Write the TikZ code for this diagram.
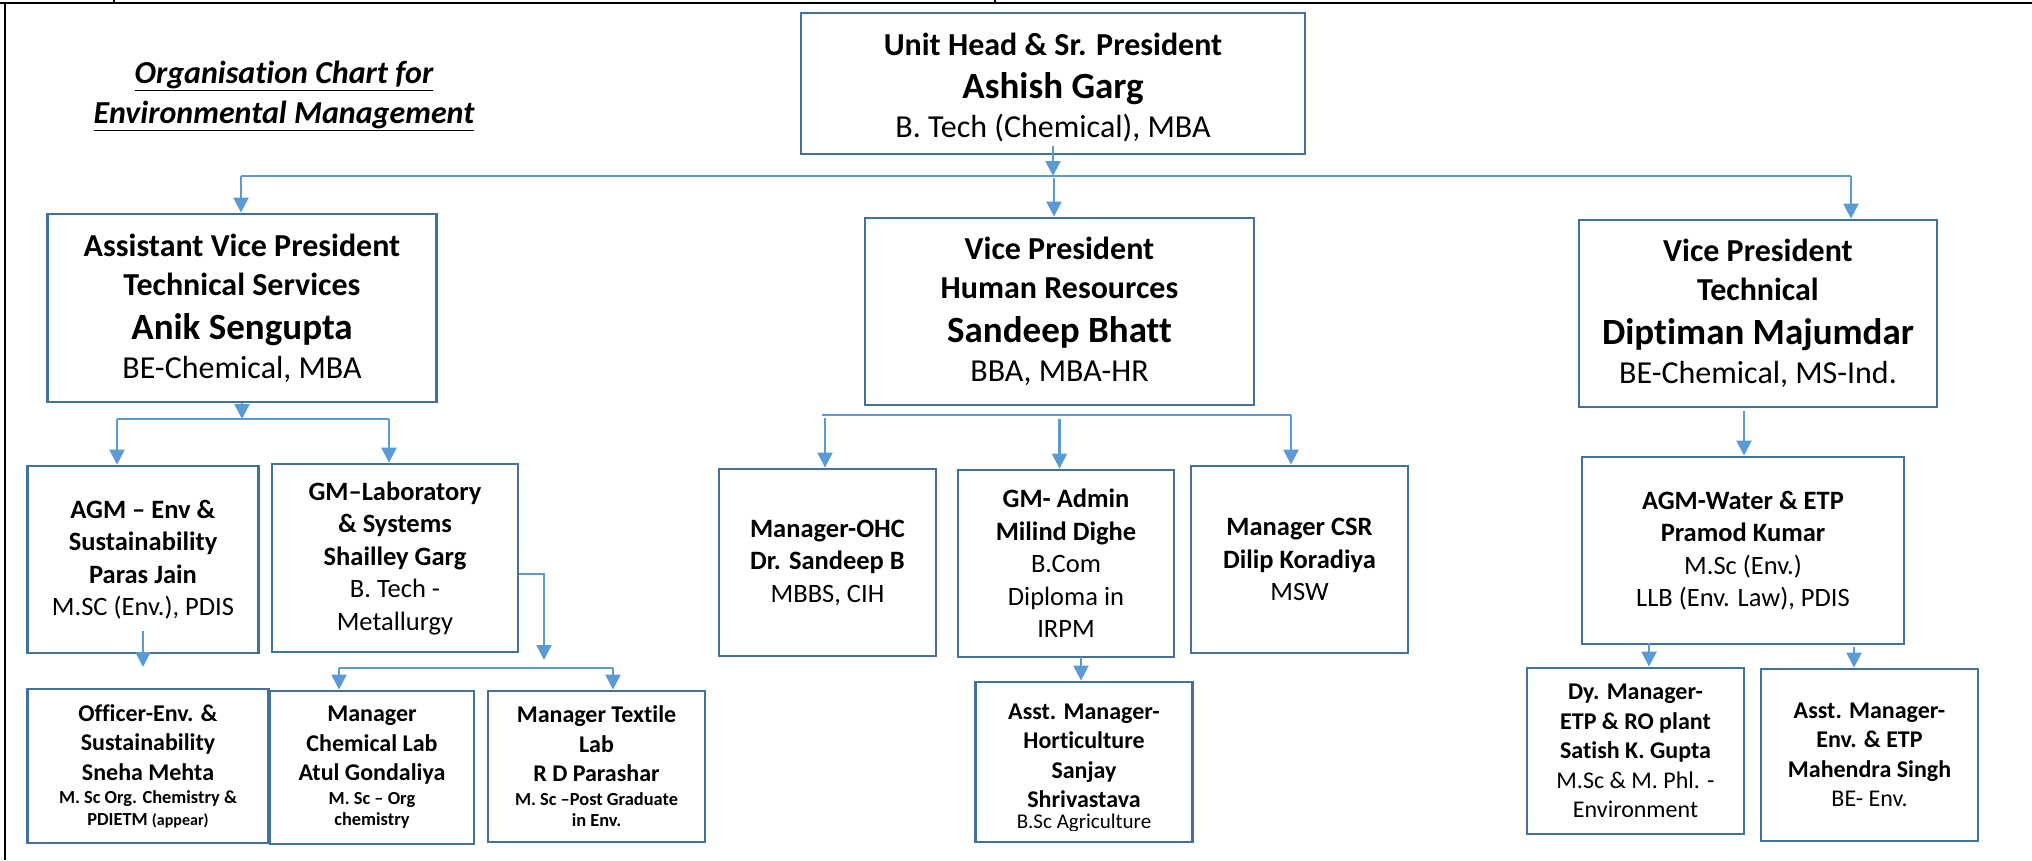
\documentclass[tikz,border=0pt]{standalone}
\usepackage{fontspec}
\setmainfont{Carlito}[Ligatures={TeX,NoCommon}]
\usetikzlibrary{arrows.meta,calc}
\definecolor{boxc}{HTML}{41719C}
\definecolor{linec}{HTML}{5B9BD5}
\newcommand\myfs[2]{\fontsize{#1}{#2}\selectfont}
\begin{document}
\begin{tikzpicture}[x=1pt,y=-1pt,
  box/.style={draw=boxc, line width=2.8pt, align=center, inner sep=0pt, fill=white},
  conn/.style={draw=linec, line width=2.4pt},
  arr/.style={conn, -{Triangle[length=15pt,width=15pt]}},
  lvla/.style={font=\myfs{32}{39}},
  lvlb/.style={font=\myfs{26.5}{32.5}},
  lvlc/.style={font=\myfs{24}{29.5}},
  frame/.style={line width=1.8pt, draw=black},
]
\useasboundingbox (0,0) rectangle (2032,860);
% frame
\draw[frame] (0,3) -- (2032,3);
\draw[frame] (5,3) -- (5,860);
\draw[frame, line width=1.5pt] (114,0) -- (114,3);
\draw[frame, line width=1.5pt] (995,0) -- (995,3);

% title
\node[font=\myfs{32}{40}, align=center] (title) at (284,96)
  {\textbf{\textit{\underline{Organisation Chart for}}}\\\textbf{\textit{\underline{Environmental Management}}}};

% level 0
\node[box, lvla, minimum width=504pt, minimum height=141pt] (top) at (1053,83.5) {};
\node[lvla, align=center] (toptxt) at (1053,87.5)
  {\textbf{Unit Head \& Sr. President}\\[4pt]{\bfseries\myfs{37}{39}Ashish Garg}\\B. Tech (Chemical), MBA};

% level 1
\node[box, lvla, minimum width=388.5pt, minimum height=188pt] (avp) at (242,308)
  {\textbf{Assistant Vice President}\\\textbf{Technical Services}\\[5pt]{\bfseries\myfs{37}{39}Anik Sengupta}\\BE-Chemical, MBA};
\node[box, lvla, minimum width=389pt, minimum height=187pt] (hr) at (1059.5,311.5)
  {\textbf{Vice President}\\\textbf{Human Resources}\\[5pt]{\bfseries\myfs{37}{39}Sandeep Bhatt}\\BBA, MBA-HR};
\node[box, lvla, minimum width=358pt, minimum height=187pt] (tech) at (1758,313.5)
  {\textbf{Vice President}\\\textbf{Technical}\\[5pt]{\bfseries\myfs{37}{39}Diptiman Majumdar}\\BE-Chemical, MS-Ind.};

% level 2
\node[box, lvlb, minimum width=231.5pt, minimum height=187pt] (agm) at (143,559.5)
  {\textbf{AGM – Env \&}\\\textbf{Sustainability}\\\textbf{Paras Jain}\\M.SC (Env.), PDIS};
\node[box, lvlb, minimum width=246pt, minimum height=188pt] (gml) at (395,558)
  {\textbf{GM–Laboratory}\\\textbf{\& Systems}\\\textbf{Shailley Garg}\\B. Tech -\\Metallurgy};
\node[box, lvlb, minimum width=217pt, minimum height=187pt] (ohc) at (827.5,562.5)
  {\textbf{Manager-OHC}\\\textbf{Dr. Sandeep B}\\MBBS, CIH};
\node[box, lvlb, minimum width=216pt, minimum height=187pt] (adm) at (1066,563.5)
  {\textbf{GM- Admin}\\\textbf{Milind Dighe}\\B.Com\\Diploma in\\IRPM};
\node[box, lvlb, minimum width=217pt, minimum height=187pt] (csr) at (1299.5,559.5)
  {\textbf{Manager CSR}\\\textbf{Dilip Koradiya}\\MSW};
\node[box, lvlb, minimum width=322pt, minimum height=187pt] (agmw) at (1743,550.5)
  {\textbf{AGM-Water \& ETP}\\\textbf{Pramod Kumar}\\M.Sc (Env.)\\LLB (Env. Law), PDIS};

% level 3
\node[box, lvlc, minimum width=240.5pt, minimum height=154pt] (off) at (148,766)
  {\textbf{Officer-Env. \&}\\\textbf{Sustainability}\\\textbf{Sneha Mehta}\\[-6pt]{\bfseries\myfs{18.4}{22}M. Sc Org. Chemistry \&}\\[-8pt]{\bfseries\myfs{18.4}{22}PDIETM {\myfs{16}{18}(appear)}}};
\node[box, lvlc, minimum width=204pt, minimum height=153pt] (chem) at (372,767.5)
  {\textbf{Manager}\\\textbf{Chemical Lab}\\\textbf{Atul Gondaliya}\\[-6pt]{\bfseries\myfs{18.4}{22}M. Sc – Org}\\[-8pt]{\bfseries\myfs{18.4}{22}chemistry}};
\node[box, lvlc, minimum width=217pt, minimum height=151pt] (tex) at (596.5,766.5)
  {\textbf{Manager Textile}\\\textbf{Lab}\\\textbf{R D Parashar}\\[-6pt]{\bfseries\myfs{18.4}{22}M. Sc –Post Graduate}\\[-8pt]{\bfseries\myfs{18.4}{22}in Env.}};
\node[box, minimum width=216.5pt, minimum height=160pt] (hort) at (1084,762) {};
\node[lvlc, align=center] (horttxt) at (1084,756)
  {\textbf{Asst. Manager-}\\\textbf{Horticulture}\\\textbf{Sanjay}\\\textbf{Shrivastava}};
\begin{scope}
  \clip (980,700) rectangle (1188,830);
  \node[font=\myfs{21}{25}] (hortq) at (1084,823) {B.Sc Agriculture};
\end{scope}
\node[box, lvlc, minimum width=217pt, minimum height=166pt] (dym) at (1635.5,751)
  {\textbf{Dy. Manager-}\\\textbf{ETP \& RO plant}\\\textbf{Satish K. Gupta}\\M.Sc \& M. Phl. -\\Environment};
\node[box, lvlc, minimum width=217pt, minimum height=172pt] (asm) at (1869.5,755)
  {\textbf{Asst. Manager-}\\\textbf{Env. \& ETP}\\\textbf{Mahendra Singh}\\BE- Env.};

% connectors
\coordinate (b1L) at (241,176);
\coordinate (b1M) at (1054,176);
\coordinate (b1R) at (1851,176);
\draw[arr] ([yshift=9pt]top.south) -- (top.south |- b1M);
\draw[conn] (b1L) -- (b1R);
\draw[arr] (b1L) -- (b1L |- avp.north);
\draw[arr] ([yshift=-2pt]b1M) -- (b1M |- hr.north);
\draw[arr] (b1R) -- (b1R |- tech.north);

\coordinate (b2L) at (117,419);
\coordinate (b2R) at (389,419);
\draw[arr] (avp.south) -- (avp.south |- b2L);
\draw[conn] (b2L) -- (b2R);
\draw[arr] (b2L) -- (b2L |- agm.north);
\draw[arr] (b2R) -- (b2R |- gml.north);

\coordinate (offin) at (142,667);
\draw[arr] ([yshift=23pt]agm.south) -- (agm.south |- offin);

\coordinate (g1) at (544,574);
\coordinate (g2) at (544,660);
\draw[arr] (gml.east |- g1) -- (g1) -- (g2);
\coordinate (b3L) at (339,668);
\coordinate (b3R) at (613,668);
\draw[conn] (b3L) -- (b3R);
\draw[arr] (b3L) -- (b3L |- chem.north);
\draw[arr] (b3R) -- (b3R |- tex.north);

\coordinate (b4L) at (822,415);
\coordinate (b4R) at (1291,415);
\coordinate (o1) at (825,418);
\coordinate (a1) at (1059.5,419);
\draw[conn] (b4L) -- (b4R);
\draw[arr] (o1) -- (o1 |- ohc.north);
\draw[arr] (a1) -- (a1 |- adm.north);
\draw[arr] (b4R) -- (b4R |- csr.north);

\coordinate (h1) at (1081,657);
\draw[arr] (h1) -- (h1 |- hort.north);

\coordinate (t1) at (1744,411);
\draw[arr] (t1) -- (t1 |- agmw.north);

\coordinate (w1) at (1649,643);
\coordinate (w2) at (1854,647);
\draw[arr] (w1) -- (w1 |- dym.north);
\draw[arr] (w2) -- (w2 |- asm.north);
\end{tikzpicture}
\end{document}
